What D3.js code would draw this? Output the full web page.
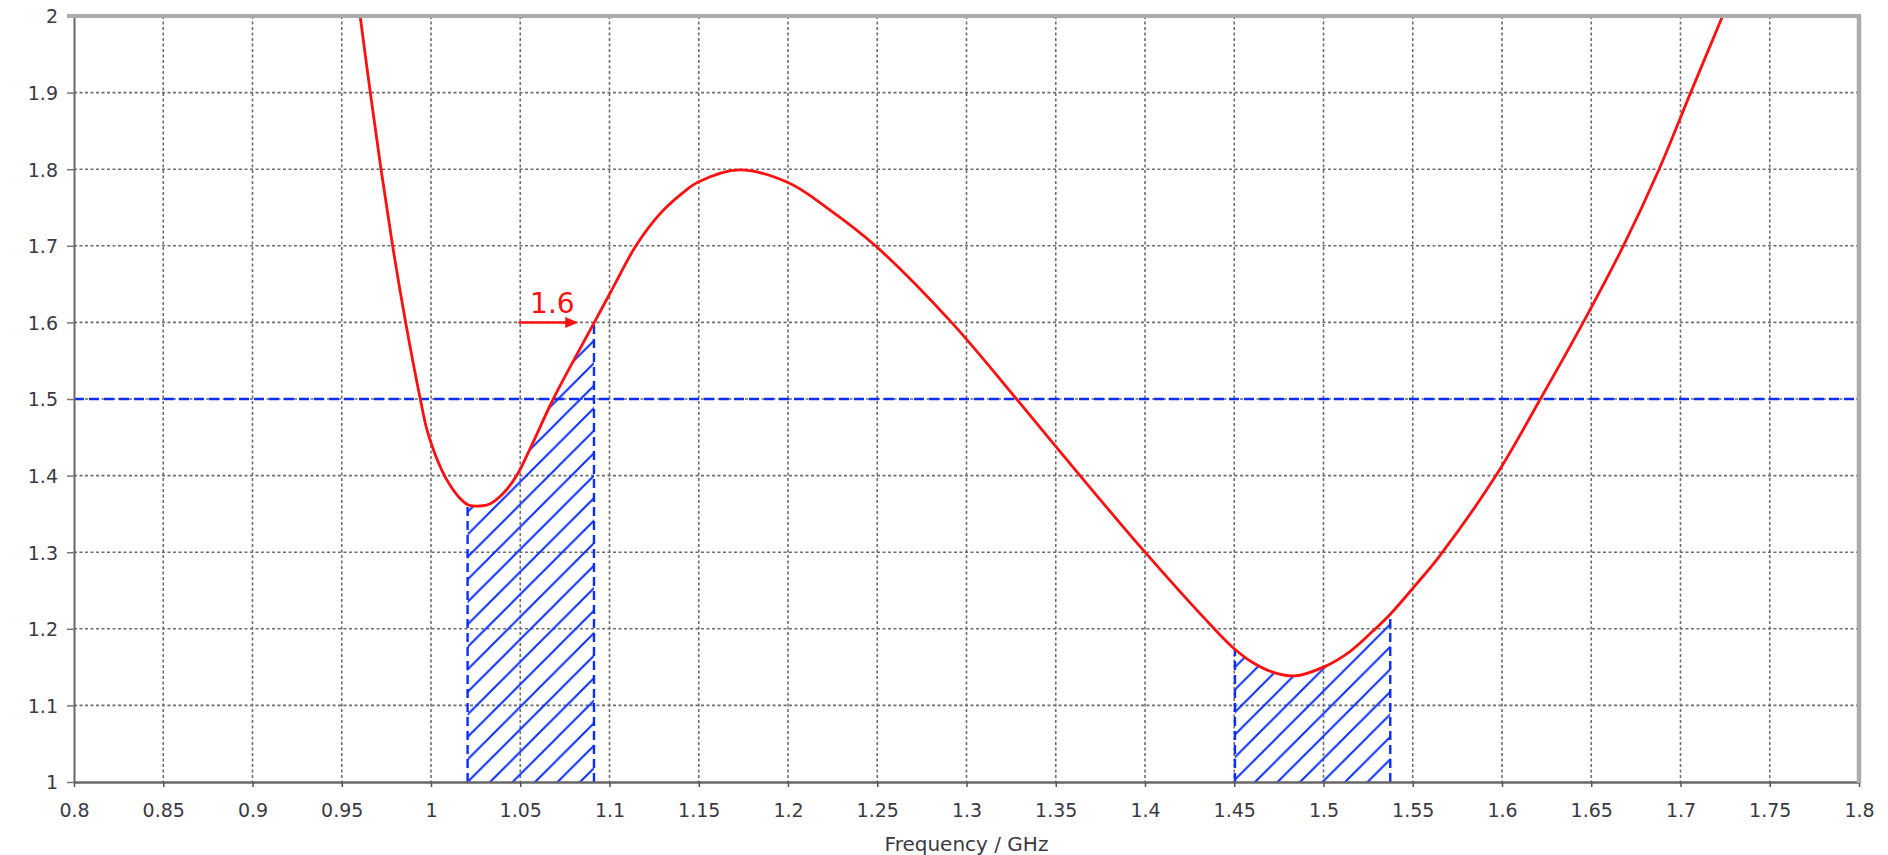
<!DOCTYPE html>
<html>
<head>
<meta charset="utf-8">
<script src="https://cdn.jsdelivr.net/npm/d3@7"></script>
<style>
  html, body { margin: 0; padding: 0; background: #fff; }
  svg { display: block; }
</style>
</head>
<body>
<svg id="chart" width="1888" height="855"></svg>
<script>
// ---- data ----
const freq = [0.9603, 0.9660, 0.9720, 0.9785, 0.9858, 0.9940, 0.9976, 1.0013, 1.0060, 1.0106,
              1.0162, 1.0209, 1.0274, 1.0330, 1.0405, 1.0480, 1.0573, 1.0685, 1.0915, 1.1020,
              1.1148, 1.1280, 1.1410, 1.1500, 1.1727, 1.2000, 1.2228, 1.2490, 1.2916, 1.3280,
              1.3636, 1.4000, 1.4388, 1.4500, 1.4603, 1.4715, 1.4837, 1.5000, 1.5146, 1.5277,
              1.5374, 1.5519, 1.5650, 1.5966, 1.6215, 1.6455, 1.6680, 1.6880, 1.7057, 1.7236];
const vswr = [2.0000, 1.9000, 1.8000, 1.7000, 1.6000, 1.5000, 1.4610, 1.4340, 1.4073, 1.3877,
              1.3704, 1.3616, 1.3603, 1.3630, 1.3769, 1.4000, 1.4440, 1.5000, 1.6000, 1.6455,
              1.7000, 1.7410, 1.7690, 1.7835, 1.7990, 1.7826, 1.7480, 1.7000, 1.6000, 1.5000,
              1.4000, 1.3000, 1.2000, 1.1740, 1.1560, 1.1435, 1.1385, 1.1500, 1.1700, 1.1970,
              1.2190, 1.2580, 1.2950, 1.4000, 1.5000, 1.6000, 1.7000, 1.8000, 1.9000, 2.0000];

const xTicks = [0.8, 0.85, 0.9, 0.95, 1, 1.05, 1.1, 1.15, 1.2, 1.25, 1.3, 1.35, 1.4, 1.45, 1.5, 1.55, 1.6, 1.65, 1.7, 1.75, 1.8];
const xTickLabels = ["0.8", "0.85", "0.9", "0.95", "1", "1.05", "1.1", "1.15", "1.2", "1.25", "1.3", "1.35", "1.4", "1.45", "1.5", "1.55", "1.6", "1.65", "1.7", "1.75", "1.8"];
const yTicks = [1, 1.1, 1.2, 1.3, 1.4, 1.5, 1.6, 1.7, 1.8, 1.9, 2];
const yTickLabels = ["1", "1.1", "1.2", "1.3", "1.4", "1.5", "1.6", "1.7", "1.8", "1.9", "2"];

const xTitle = "Frequency / GHz";
const thresholdValue = [1.5];

const bandStart = [1.0205, 1.4504];
const bandEnd = [1.0913, 1.5374];
const bandStartTop = [1.361, 1.174];
const bandEndTop = [1.600, 1.219];

const markerLabel = ["1.6"];
const markerValue = [1.6];
const arrowFrom = [1.049];
const arrowTo = [1.0825];
const markerTextX = [1.0555];

// ---- layout ----
const W = 1888, H = 855;
const pL = 74, pR = 1859, pT = 16, pB = 782;

const x = d3.scaleLinear().domain([0.8, 1.8]).range([pL, pR]);
const y = d3.scaleLinear().domain([1, 2]).range([pB, pT]);

const svg = d3.select("#chart");
const FONT = "'DejaVu Sans', Verdana, sans-serif";
const BLUE = "#0a2eff";
const RED = "#ff1010";

const defs = svg.append("defs");
defs.append("clipPath").attr("id", "plotClip")
  .append("rect").attr("x", pL).attr("y", pT)
  .attr("width", pR - pL).attr("height", pB - pT);

const S = 22.5;
const pat = defs.append("pattern").attr("id", "hatch")
  .attr("patternUnits", "userSpaceOnUse")
  .attr("x", x(bandStart[0])).attr("y", pB)
  .attr("width", S).attr("height", S);
pat.append("path")
  .attr("d", `M0,${S} L${S},0 M${-S/2},${S/2} L${S/2},${-S/2} M${S/2},${S*1.5} L${S*1.5},${S/2}`)
  .attr("stroke", BLUE).attr("stroke-width", 2).attr("fill", "none");

bandStart.forEach((b, i) => {
  defs.append("clipPath").attr("id", "band" + i)
    .append("rect").attr("x", x(b)).attr("y", pT)
    .attr("width", x(bandEnd[i]) - x(b)).attr("height", pB - pT);
});

// ---- grid ----
const grid = svg.append("g");
grid.selectAll("line.gx").data(xTicks.slice(1, -1)).join("line")
  .attr("x1", d => x(d)).attr("x2", d => x(d))
  .attr("y1", pT).attr("y2", pB)
  .attr("stroke", "#6e6e6e").attr("stroke-width", 1.6).attr("stroke-dasharray", "3,2.5");
grid.selectAll("line.gy").data(yTicks.slice(1, -1)).join("line")
  .attr("x1", pL).attr("x2", pR)
  .attr("y1", d => y(d)).attr("y2", d => y(d))
  .attr("stroke", "#6e6e6e").attr("stroke-width", 1.6).attr("stroke-dasharray", "3,2.5");

// ---- hatched bands ----
const data = freq.map((f, i) => ({ f, v: vswr[i] }));
const curve = d3.curveCatmullRom.alpha(0.5);
const area = d3.area().x(d => x(d.f)).y0(y(1)).y1(d => y(d.v)).curve(curve);

bandStart.forEach((b, i) => {
  svg.append("g").attr("clip-path", `url(#band${i})`)
    .append("path").datum(data).attr("d", area)
    .attr("fill", "url(#hatch)");
});

// band edges
const edges = [];
bandStart.forEach((b, i) => {
  edges.push({ f: b, v: bandStartTop[i] });
  edges.push({ f: bandEnd[i], v: bandEndTop[i] });
});
svg.append("g").selectAll("line").data(edges).join("line")
  .attr("x1", d => x(d.f)).attr("x2", d => x(d.f))
  .attr("y1", y(1)).attr("y2", d => y(d.v))
  .attr("stroke", BLUE).attr("stroke-width", 2.4).attr("stroke-dasharray", "9,5");

// threshold line
svg.append("g").selectAll("line").data(thresholdValue).join("line")
  .attr("x1", pL).attr("x2", pR)
  .attr("y1", d => y(d)).attr("y2", d => y(d))
  .attr("stroke", BLUE).attr("stroke-width", 2.4).attr("stroke-dasharray", "10,5");

// ---- curve ----
const line = d3.line().x(d => x(d.f)).y(d => y(d.v)).curve(curve);
svg.append("g").attr("clip-path", "url(#plotClip)")
  .append("path").datum(data).attr("d", line)
  .attr("fill", "none").attr("stroke", RED).attr("stroke-width", 2.8)
  .attr("stroke-linejoin", "round");

// ---- annotation ----
const ann = svg.append("g");
markerValue.forEach((mv, i) => {
  const x0 = x(arrowFrom[i]), x1 = x(arrowTo[i]), yy = y(mv);
  ann.append("line").attr("x1", x0).attr("x2", x1 - 8).attr("y1", yy).attr("y2", yy)
    .attr("stroke", RED).attr("stroke-width", 2.5);
  ann.append("path").attr("d", `M${x1},${yy} L${x1 - 13},${yy - 5.5} L${x1 - 13},${yy + 5.5} Z`)
    .attr("fill", RED);
  ann.append("text").attr("x", x(markerTextX[i])).attr("y", yy - 9)
    .attr("font-family", FONT).attr("font-size", 28).attr("fill", RED)
    .text(markerLabel[i]);
});

// ---- axes ----
const xAxis = d3.axisBottom(x).tickValues(xTicks).tickFormat((d, i) => xTickLabels[i])
  .tickSize(5).tickSizeOuter(0).tickPadding(16);
const gx = svg.append("g").attr("transform", `translate(0,${pB})`).call(xAxis);
gx.select(".domain").attr("stroke", "#676767").attr("stroke-width", 2.5);
gx.selectAll(".tick line").attr("stroke", "#555").attr("stroke-width", 1.5);
gx.selectAll(".tick text").attr("font-family", FONT).attr("font-size", 19)
  .attr("fill", "#3a3a44").attr("dy", null).attr("y", 35);

const yAxis = d3.axisLeft(y).tickValues(yTicks).tickFormat((d, i) => yTickLabels[i])
  .tickSize(7).tickSizeOuter(0).tickPadding(9);
const gy = svg.append("g").attr("transform", `translate(${pL},0)`).call(yAxis);
gy.select(".domain").attr("stroke", "#676767").attr("stroke-width", 2);
gy.selectAll(".tick line").attr("stroke", "#777").attr("stroke-width", 1.5);
gy.selectAll(".tick text").attr("font-family", FONT).attr("font-size", 19)
  .attr("fill", "#3a3a44").attr("dy", "0.36em");

// top & right frame
svg.append("line").attr("x1", pL - 7).attr("x2", pR + 2).attr("y1", pT).attr("y2", pT)
  .attr("stroke", "#ababab").attr("stroke-width", 4);
svg.append("line").attr("x1", pR).attr("x2", pR).attr("y1", pT).attr("y2", pB + 1)
  .attr("stroke", "#ababab").attr("stroke-width", 4.5);

// axis title
svg.append("text").attr("x", (pL + pR) / 2).attr("y", 851)
  .attr("text-anchor", "middle").attr("font-family", FONT).attr("font-size", 20)
  .attr("fill", "#3a3a44").text(xTitle);
</script>
</body>
</html>
